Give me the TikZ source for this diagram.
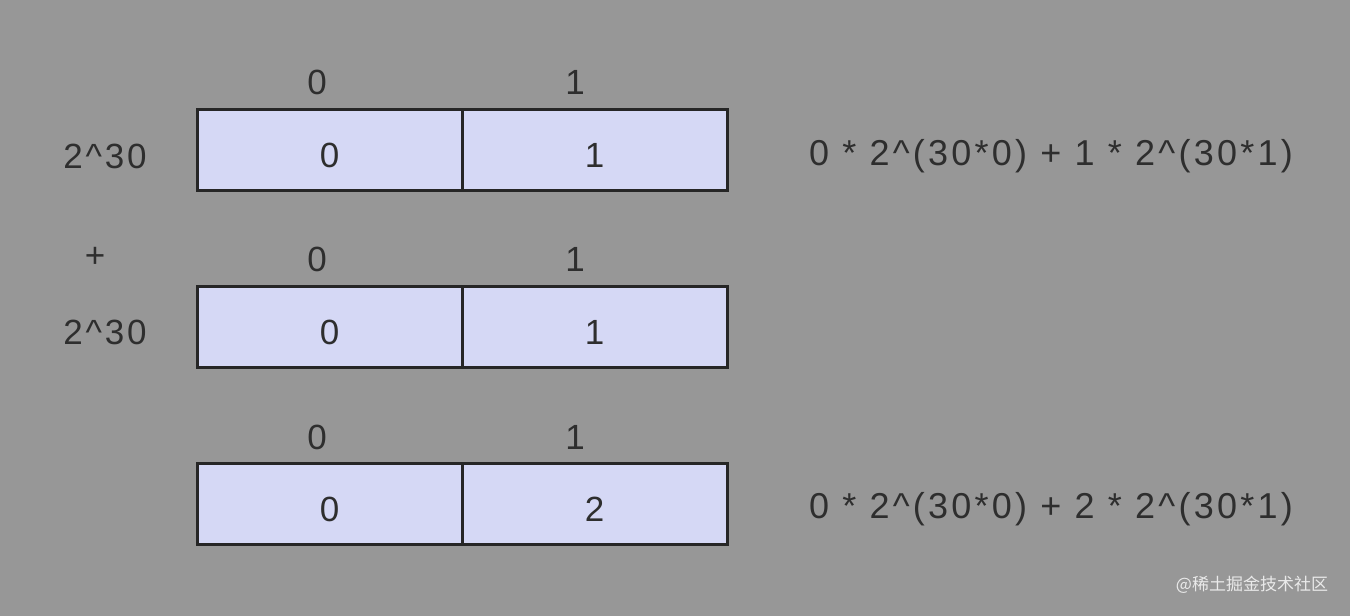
\documentclass[tikz,border=0pt]{standalone}
\usepackage{fontspec}
\setmainfont{Liberation Sans}
\newfontfamily\cjk{Noto Sans CJK SC}
\definecolor{bg}{HTML}{979797}
\definecolor{cell}{HTML}{D5D8F5}
\definecolor{txt}{HTML}{2E2E2E}
\begin{document}
\begin{tikzpicture}[x=1pt,y=-1pt,
  lbl/.style={font=\fontsize{35}{35}\selectfont,text=txt,inner sep=0pt},
  cellbox/.style={draw=black!85,line width=3pt,fill=cell,minimum width=265pt,minimum height=81pt,inner sep=0pt},
  celltxt/.style={font=\fontsize{35}{35}\selectfont,text=txt,inner sep=0pt}]
\fill[bg] (0,0) rectangle (1350,616);
\useasboundingbox (0,0) rectangle (1350,616);
\foreach \r/\y/\v in {a/150/1,b/327/1,c/504/2}{
  \node[cellbox] (\r0) at (329.5,\y) {};
  \node[cellbox] (\r1) at (594.5,\y) {};
  \node[celltxt] (\r0t) at ([yshift=-5pt]\r0.center) {0};
  \node[celltxt] (\r1t) at ([yshift=-5pt]\r1.center) {\v};
}
\node[lbl] (i1a) at (317,82) {0};
\node[lbl] (i1b) at (575,82) {1};
\node[lbl] (i2a) at (317,259) {0};
\node[lbl] (i2b) at (575,259) {1};
\node[lbl] (i3a) at (317,437) {0};
\node[lbl] (i3b) at (575,437) {1};
\node[lbl,font=\fontsize{35}{35}\selectfont\addfontfeatures{LetterSpace=8}] (p1) at (105,156) {2\^{}30};
\node[lbl,font=\fontsize{35}{35}\selectfont\addfontfeatures{LetterSpace=8}] (p2) at (105,332) {2\^{}30};
\node[lbl] (plus) at (95,257) {+};
\node[lbl,font=\fontsize{36}{36}\selectfont\addfontfeatures{LetterSpace=9}] (f1) at (1051,156) {0 * 2\^{}(30*0) + 1 * 2\^{}(30*1)};
\node[lbl,font=\fontsize{36}{36}\selectfont\addfontfeatures{LetterSpace=9}] (f2) at (1051,509) {0 * 2\^{}(30*0) + 2 * 2\^{}(30*1)};
\node[font=\cjk\fontsize{17}{17}\selectfont,text=white!80!bg,inner sep=0pt] (wm) at (1252,585) {@稀土掘金技术社区};
\end{tikzpicture}
\end{document}
